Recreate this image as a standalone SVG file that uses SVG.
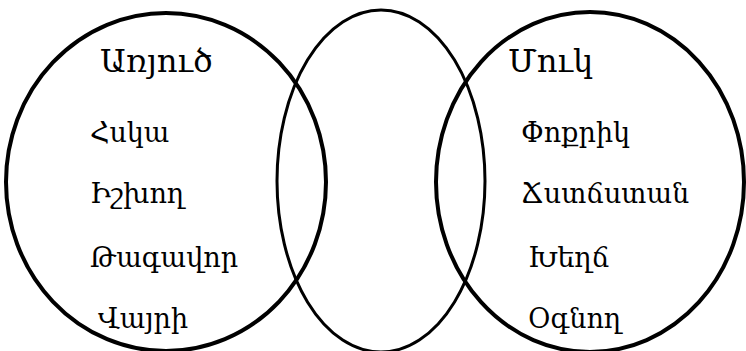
<svg xmlns="http://www.w3.org/2000/svg" width="746" height="351" viewBox="0 0 746 351">
<style>
.c{fill:none;stroke:#000;stroke-width:4}
.m{fill:none;stroke:#000;stroke-width:3}
.t{font-family:"DejaVu Serif","Noto Serif",serif;font-size:27px;fill:#000}
.h{font-family:"DejaVu Serif","Noto Serif",serif;font-size:32px;fill:#000}
</style>
<rect width="746" height="351" fill="#fff"/>
<g id="connectors"></g>
<g id="lion">
<ellipse class="c" cx="166" cy="182" rx="160" ry="169"/>
<text class="h" x="100" y="72">Առյուծ</text>
<text class="t" x="90" y="142">Հսկա</text>
<text class="t" x="90" y="203">Իշխող</text>
<text class="t" x="90" y="267">Թագավոր</text>
<text class="t" x="98" y="328">Վայրի</text>
</g>
<g id="middle">
<ellipse class="m" cx="381" cy="181" rx="104" ry="171"/>
</g>
<g id="mouse">
<ellipse class="c" cx="590" cy="182" rx="154" ry="170"/>
<text class="h" x="508" y="72">Մուկ</text>
<text class="t" x="521" y="142">Փոքրիկ</text>
<text class="t" x="521" y="203">Ճստճստան</text>
<text class="t" x="528" y="267">Խեղճ</text>
<text class="t" x="528" y="328">Օգնող</text>
</g>
</svg>
